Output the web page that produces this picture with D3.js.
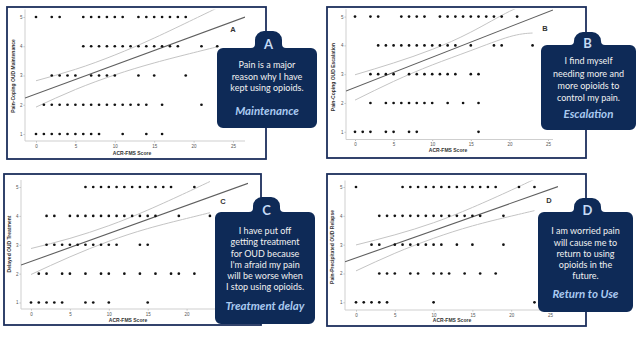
<!DOCTYPE html>
<html>
<head>
<meta charset="utf-8">
<script src="https://cdn.jsdelivr.net/npm/d3@7"></script>
<style>
  html, body { margin: 0; padding: 0; background: #fff; }
  svg { display: block; }
</style>
</head>
<body>
<svg id="chart" width="642" height="339"></svg>
<script>
// ---- data ----
const panelLetters = ["A", "B", "C", "D"];
const xAxisTitle = "ACR-FMS Score";
const yAxisTitles = [
  "Pain-Coping OUD Maintenance",
  "Pain-Coping OUD Escalation",
  "Delayed OUD Treatment",
  "Pain-Precipitated OUD Relapse"
];
const xTicks = [0, 5, 10, 15, 20, 25];
const yTicks = [1, 2, 3, 4, 5];

// ACR-FMS scores observed at each response level (index 0 = level 1 ... index 4 = level 5)
const maintenanceScores = [
  [0, 1, 2, 3, 4, 5, 6, 7, 8, 11, 14, 16],
  [1, 2, 3, 4, 5, 6, 7, 8, 9, 10, 11, 12, 13, 14, 16, 21],
  [2, 3, 4, 5, 7, 8, 9, 10, 13, 15, 19],
  [6, 7, 8, 9, 10, 11, 12, 13, 14, 15, 16, 17, 18, 21, 23],
  [0, 2, 3, 6, 7, 8, 9, 10, 11, 13, 14, 15, 16, 17, 18, 19]
];
const escalationScores = [
  [0, 1, 2, 4, 5, 7, 8, 16],
  [2, 4, 5, 6, 7, 8, 9, 10, 12, 14, 16],
  [2, 3, 4, 5, 7, 8, 9, 10, 11, 12, 13, 15, 16],
  [3, 4, 5, 6, 7, 8, 9, 10, 11, 12, 13, 15, 18, 19, 23],
  [0, 2, 3, 6, 7, 8, 9, 11, 12, 13, 14, 15, 16, 17, 18, 19, 21]
];
const delayScores = [
  [0, 1, 2, 3, 4, 7, 8, 10, 15],
  [1, 2, 4, 5, 7, 9, 10, 12, 14, 16, 18, 19, 21],
  [2, 3, 4, 5, 6, 7, 8, 9, 10, 11, 14, 15],
  [2, 3, 5, 6, 7, 8, 9, 10, 11, 12, 13, 14, 15, 16, 19, 23],
  [7, 8, 9, 10, 11, 12, 13, 14, 15, 16, 17, 18, 21]
];
const returnScores = [
  [0, 1, 2, 3, 4, 10, 23],
  [3, 4, 5, 7, 8, 10, 11, 12, 14, 16, 18],
  [2, 3, 5, 6, 7, 8, 9, 10, 11, 13, 15, 19],
  [3, 4, 5, 6, 7, 8, 9, 10, 11, 12, 13, 14, 15, 16, 19],
  [0, 6, 7, 8, 9, 10, 11, 12, 13, 14, 15, 16, 17, 18, 21, 23]
];

// linear fit for each panel
const fitIntercepts = [2.37, 2.54, 2.42, 2.54];
const fitSlopes = [0.099, 0.105, 0.097, 0.095];

// confidence band of the fit
const bandX = [0, 5, 10, 15, 20, 23];
const maintenanceUpper = [2.82, 3.21, 3.70, 4.28, 4.92, 5.31];
const maintenanceLower = [1.92, 2.52, 3.02, 3.43, 3.78, 3.98];
const escalationUpper = [2.98, 3.39, 3.86, 4.46, 5.18, 5.48];
const escalationLower = [2.10, 2.75, 3.32, 3.82, 4.30, 4.43];
const delayUpper = [2.87, 3.22, 3.66, 4.20, 4.81, 5.19];
const delayLower = [1.97, 2.58, 3.12, 3.56, 3.91, 4.11];
const returnUpper = [2.99, 3.34, 3.76, 4.29, 4.89, 5.27];
const returnLower = [2.09, 2.70, 3.22, 3.65, 3.99, 4.18];

// callout statements and labels
const maintenanceText = ["Pain is a major", "reason why I have", "kept using opioids."];
const escalationText = ["I find myself", "needing more and", "more opioids to", "control my pain."];
const delayText = ["I have put off", "getting treatment", "for OUD because", "I'm afraid my pain", "will be worse when", "I stop using opioids."];
const returnText = ["I am worried pain", "will cause me to", "return to using", "opioids in the", "future."];
const calloutLabels = ["Maintenance", "Escalation", "Treatment delay", "Return to Use"];

const panelScores = [maintenanceScores, escalationScores, delayScores, returnScores];
const panelUpper = [maintenanceUpper, escalationUpper, delayUpper, returnUpper];
const panelLower = [maintenanceLower, escalationLower, delayLower, returnLower];
const panelText = [maintenanceText, escalationText, delayText, returnText];

// ---- layout (pixel geometry of each panel) ----
const layout = [
  { frame: [7, 7, 266, 159], x0: 36, x25: 233, y1: 134, y5: 17, axL: 25, axR: 245, axB: 141, top: 9.5,
    yTitle: [14, 76], xTitle: [132, 153.5], letter: [233, 30],
    box: { x: 217, y: 48, w: 100, h: 80, tcx: 268.5, ttop: 31, tw: 27 }, letterY: 45.5,
    lineY: 66, lineH: 11.5, titleY: 112 },
  { frame: [327, 7, 586, 158], x0: 355, x25: 548, y1: 131.8, y5: 16.6, axL: 346, axR: 553, axB: 139.5, top: 9.2,
    yTitle: [334, 77], xTitle: [448, 150.7], letter: [545, 29],
    box: { x: 541, y: 45, w: 95, h: 85, tcx: 587.5, ttop: 32, tw: 27 }, letterY: 44.5,
    lineY: 62, lineH: 12.3, titleY: 115 },
  { frame: [4, 174, 261, 325], x0: 31, x25: 225.5, y1: 302.5, y5: 187, axL: 21, axR: 248, axB: 309, top: 180,
    yTitle: [10, 244], xTitle: [128, 320.7], letter: [223, 202],
    box: { x: 215, y: 212, w: 100, h: 112, tcx: 266.5, ttop: 197, tw: 27 }, letterY: 211.5,
    lineY: 232, lineH: 11.2, titleY: 307 },
  { frame: [327, 174, 586, 326], x0: 356, x25: 550, y1: 302.3, y5: 187, axL: 345, axR: 558, axB: 310, top: 180.5,
    yTitle: [333, 247], xTitle: [452, 320.7], letter: [549, 201],
    box: { x: 538, y: 212, w: 95, h: 100, tcx: 587.5, ttop: 198, tw: 27 }, letterY: 212,
    lineY: 232, lineH: 11.3, titleY: 295 }
];

const svg = d3.select("#chart");
const defs = svg.append("defs");

// rounded box with a tab rising from its top edge
function calloutPath(b) {
  const r = 6, tr = 9, f = 4;
  const a = b.tcx - b.tw / 2, c = b.tcx + b.tw / 2;
  const x = b.x, y = b.y, w = b.w, h = b.h;
  const p = d3.path();
  p.moveTo(x + r, y);
  p.lineTo(a - f, y);
  p.arcTo(a, y, a, y - f, f);
  p.lineTo(a, b.ttop + tr);
  p.arcTo(a, b.ttop, a + tr, b.ttop, tr);
  p.lineTo(c - tr, b.ttop);
  p.arcTo(c, b.ttop, c, b.ttop + tr, tr);
  p.lineTo(c, y - f);
  p.arcTo(c, y, c + f, y, f);
  p.lineTo(x + w - r, y);
  p.arcTo(x + w, y, x + w, y + r, r);
  p.lineTo(x + w, y + h - r);
  p.arcTo(x + w, y + h, x + w - r, y + h, r);
  p.lineTo(x + r, y + h);
  p.arcTo(x, y + h, x, y + h - r, r);
  p.lineTo(x, y + r);
  p.arcTo(x, y, x + r, y, r);
  p.closePath();
  return p.toString();
}

layout.forEach((L, i) => {
  const g = svg.append("g");
  const x = d3.scaleLinear().domain([0, 25]).range([L.x0, L.x25]);
  const y = d3.scaleLinear().domain([1, 5]).range([L.y1, L.y5]);

  // panel frame
  g.append("rect")
    .attr("x", L.frame[0]).attr("y", L.frame[1])
    .attr("width", L.frame[2] - L.frame[0]).attr("height", L.frame[3] - L.frame[1])
    .attr("fill", "#fff").attr("stroke", "#1c2f5c").attr("stroke-width", 1.8);

  // axes
  const xAxis = d3.axisBottom(x).tickValues(xTicks).tickFormat(d3.format("d")).tickSize(1.5).tickSizeOuter(0);
  const gx = g.append("g").attr("transform", `translate(0,${L.axB})`).call(xAxis);
  const yAxis = d3.axisLeft(y).tickValues(yTicks).tickFormat(d3.format("d")).tickSize(1.5).tickSizeOuter(0);
  const gy = g.append("g").attr("transform", `translate(${L.axL},0)`).call(yAxis);
  [gx, gy].forEach(a => {
    a.select(".domain").remove();
    a.selectAll(".tick line").attr("stroke", "#bbb");
    a.selectAll(".tick text").attr("fill", "#555").attr("font-size", 4.5)
      .attr("font-family", "Liberation Sans, Arial, sans-serif");
  });
  gx.selectAll(".tick text").attr("dy", "0.9em").attr("y", 2.5);
  gy.selectAll(".tick text").attr("x", -2.5);

  g.append("line").attr("x1", L.axL).attr("x2", L.axR).attr("y1", L.axB).attr("y2", L.axB)
    .attr("stroke", "#cfcfcf").attr("stroke-width", 1);
  g.append("line").attr("x1", L.axL).attr("x2", L.axL).attr("y1", L.top).attr("y2", L.axB)
    .attr("stroke", "#cfcfcf").attr("stroke-width", 1);

  // axis titles
  g.append("text").text(xAxisTitle)
    .attr("x", L.xTitle[0]).attr("y", L.xTitle[1]).attr("text-anchor", "middle")
    .attr("dominant-baseline", "middle")
    .attr("font-family", "Liberation Sans, Arial, sans-serif").attr("font-weight", "bold")
    .attr("font-size", 5).attr("fill", "#333");
  g.append("text").text(yAxisTitles[i])
    .attr("transform", `translate(${L.yTitle[0]},${L.yTitle[1]}) rotate(-90)`)
    .attr("text-anchor", "middle").attr("dominant-baseline", "middle")
    .attr("font-family", "Liberation Sans, Arial, sans-serif").attr("font-weight", "bold")
    .attr("font-size", 5).attr("fill", "#333");

  // clip for lines
  const clipId = "clip" + i;
  defs.append("clipPath").attr("id", clipId).append("rect")
    .attr("x", L.axL).attr("y", L.top).attr("width", L.axR - L.axL).attr("height", L.axB - L.top);
  const plot = g.append("g").attr("clip-path", `url(#${clipId})`);

  // confidence band
  const band = d3.line().x(d => x(d[0])).y(d => y(d[1])).curve(d3.curveNatural);
  [panelUpper[i], panelLower[i]].forEach(vals => {
    plot.append("path").datum(bandX.map((bx, k) => [bx, vals[k]]))
      .attr("d", band).attr("fill", "none").attr("stroke", "#c4c4c4").attr("stroke-width", 1);
  });

  // fit line across the plot width
  const xa = x.invert(L.axL), xb = x.invert(L.axR);
  plot.append("line")
    .attr("x1", x(xa)).attr("y1", y(fitIntercepts[i] + fitSlopes[i] * xa))
    .attr("x2", x(xb)).attr("y2", y(fitIntercepts[i] + fitSlopes[i] * xb))
    .attr("stroke", "#5f5f5f").attr("stroke-width", 1.1);

  // dots
  const pts = [];
  panelScores[i].forEach((row, k) => row.forEach(s => pts.push([s, yTicks[k]])));
  g.append("g").selectAll("circle").data(pts).join("circle")
    .attr("cx", d => x(d[0])).attr("cy", d => y(d[1])).attr("r", 1.35).attr("fill", "#111");

  // panel letter inside the plot
  g.append("text").text(panelLetters[i])
    .attr("x", L.letter[0]).attr("y", L.letter[1]).attr("text-anchor", "middle")
    .attr("dominant-baseline", "middle")
    .attr("font-family", "Liberation Sans, Arial, sans-serif").attr("font-weight", "bold")
    .attr("font-size", 7.5).attr("fill", "#333");

  // callout
  const b = L.box;
  const cx = b.x + b.w / 2;
  const co = svg.append("g");
  co.append("path").attr("d", calloutPath(b)).attr("fill", "#0e2a57");
  co.append("text").text(panelLetters[i])
    .attr("x", b.tcx).attr("y", L.letterY).attr("text-anchor", "middle")
    .attr("dominant-baseline", "middle")
    .attr("font-family", "Lato, sans-serif").attr("font-weight", "bold")
    .attr("font-size", 13).attr("fill", "#c6dbf5");
  co.append("g").selectAll("text").data(panelText[i]).join("text")
    .text(d => d)
    .attr("x", cx).attr("y", (d, k) => L.lineY + k * L.lineH)
    .attr("text-anchor", "middle").attr("dominant-baseline", "middle")
    .attr("font-family", "Lato, sans-serif").attr("font-size", 9).attr("fill", "#f1f1f1");
  co.append("text").text(calloutLabels[i])
    .attr("x", cx).attr("y", L.titleY).attr("text-anchor", "middle")
    .attr("dominant-baseline", "middle")
    .attr("font-family", "Lato, sans-serif").attr("font-weight", "bold").attr("font-style", "italic")
    .attr("font-size", 11.5).attr("fill", "#a9c9f0");
});
</script>
</body>
</html>
